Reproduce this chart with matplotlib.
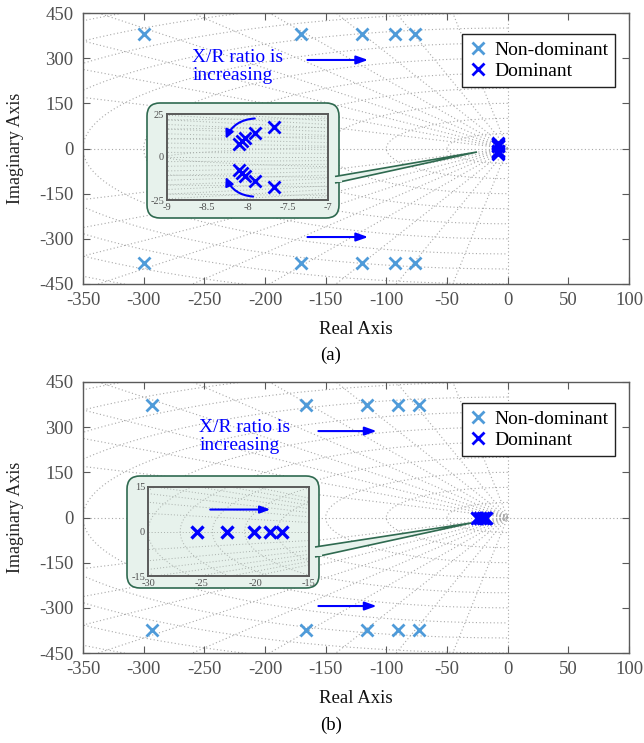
import numpy as np
import matplotlib
matplotlib.use("Agg")
import matplotlib.pyplot as plt
from matplotlib.patches import FancyBboxPatch, Polygon, FancyArrowPatch

plt.rcParams['font.family'] = ['Liberation Serif', 'DejaVu Serif']
plt.rcParams['mathtext.fontset'] = 'stix'

# ---------------- data ----------------
a_nd_re = [-300, -170, -120, -93, -76]
a_nd_im = [379, 379, 379, 379, 379]
a_dom_re = [-8.11, -8.07, -8.03, -7.91, -7.67]
a_dom_im = [7.3, 9.4, 11.0, 13.9, 17.7]

b_nd_re = [-293, -166, -116, -90, -73]
b_nd_im = [375, 375, 375, 375, 375]
b_dom_re = [-25.4, -22.6, -20.1, -18.6, -17.5]
b_dom_im = [0, 0, 0, 0, 0]

xticks = [-350, -300, -250, -200, -150, -100, -50, 0, 50, 100]
yticks = [-450, -300, -150, 0, 150, 300, 450]

C_ND = '#4f9bd9'
C_DOM = '#0000ff'
C_GRID = '#a8a8a8'
C_FRAME = '#5a5a5a'
C_TICK = '#505050'
C_BOX = '#e7f2ec'
C_BOXE = '#2f6a50'

W, H = 644, 743
fig = plt.figure(figsize=(W / 100, H / 100), dpi=100)


def fr(x0, y0, x1, y1):
    return [x0 / W, 1 - y1 / H, (x1 - x0) / W, (y1 - y0) / H]


def sgrid(ax, zetas, wns, rmax, lw=0.8, color=C_GRID):
    ls = (0, (1, 2.2))
    for z in zetas:
        s = np.sqrt(1 - z ** 2)
        for sg in (1, -1):
            ax.plot([0, -z * rmax], [0, sg * s * rmax], ls=ls, color=color, lw=lw, zorder=0)
    th = np.linspace(np.pi / 2, 3 * np.pi / 2, 600)
    for wn in wns:
        ax.plot(wn * np.cos(th), wn * np.sin(th), ls=ls, color=color, lw=lw, zorder=0)
    ax.axhline(0, ls=ls, color=color, lw=lw, zorder=0)
    ax.axvline(0, ls=ls, color=color, lw=lw, zorder=0)


def style(ax, fs=13.5):
    for sp in ax.spines.values():
        sp.set_color(C_FRAME)
        sp.set_linewidth(1.0)
    ax.tick_params(direction='in', top=True, right=True, colors=C_FRAME,
                   labelcolor=C_TICK, labelsize=fs, length=5, width=0.8)


def main_panel(rect, nd_re, nd_im, dom_re, dom_im, small_wn, arrows, txt_xy, label, lab_y):
    ax = fig.add_axes(rect)
    sgrid(ax, np.arange(0.1, 1.0, 0.1), list(small_wn) + list(np.arange(50, 700, 50)), 900)
    ax.plot(nd_re + nd_re, nd_im + [-v for v in nd_im], 'x', color=C_ND, ms=9, mew=2,
            ls='none', label='Non-dominant', zorder=3)
    ax.plot(dom_re + dom_re, dom_im + [-v for v in dom_im], 'x', color=C_DOM, ms=9, mew=2,
            ls='none', label='Dominant', zorder=3)
    ax.set_xlim(-350, 100)
    ax.set_ylim(-450, 450)
    ax.set_xticks(xticks)
    ax.set_yticks(yticks)
    ax.set_xticklabels([str(v) for v in xticks])
    ax.set_yticklabels([str(v) for v in yticks])
    style(ax)
    ax.tick_params(axis='x', pad=6)
    ax.tick_params(axis='y', pad=7)
    ax.set_xlabel('Real Axis', fontsize=13.5, color='#111111')
    ax.set_ylabel('Imaginary Axis', fontsize=13, color='#222222')
    ax.xaxis.set_label_coords(0.5, -0.135)
    ax.yaxis.set_label_coords(-0.108, 0.5)
    leg = ax.legend(loc='upper right', bbox_to_anchor=(0.975, 0.922), fontsize=14,
                    frameon=True, fancybox=False, edgecolor='#222222', framealpha=1,
                    handlelength=0.9, handletextpad=0.4, borderpad=0.35, labelspacing=0.2,
                    borderaxespad=0)
    leg.get_frame().set_linewidth(1.0)
    for (x0, x1, y) in arrows:
        ax.annotate('', xy=(x1, y), xytext=(x0, y),
                    arrowprops=dict(arrowstyle='-|>,head_length=0.7,head_width=0.25',
                                    color=C_DOM, lw=1.5, shrinkA=0, shrinkB=0), zorder=4)
    ax.text(txt_xy[0], txt_xy[1], 'X/R ratio is\nincreasing', color=C_DOM, fontsize=14,
            ha='left', va='center', linespacing=1.05, zorder=4)
    fig.text(331 / W, 1 - lab_y / H, label, ha='center', va='center', fontsize=13.5)
    return ax


ax_a = main_panel(fr(83, 13, 629, 284), a_nd_re, a_nd_im, a_dom_re, a_dom_im, [],
                  [(-165, -115, 294), (-165, -115, -294)], (-260, 273), '(a)', 355)
ax_b = main_panel(fr(83, 382, 629, 653), b_nd_re, b_nd_im, b_dom_re, b_dom_im,
                  [2.5, 5, 7.5, 10],
                  [(-156, -108, 287), (-156, -108, -294)], (-254, 270), '(b)', 725)


def px(x, y):
    return (x / 100, (H - y) / 100)


def callout(box, base, tip):
    x0, y0, x1, y1 = box
    p0 = px(x0, y1)
    bb = FancyBboxPatch(p0, (x1 - x0) / 100, (y1 - y0) / 100,
                        boxstyle='round,pad=0,rounding_size=0.13',
                        transform=fig.dpi_scale_trans, facecolor=C_BOX,
                        edgecolor=C_BOXE, lw=1.2, zorder=2)
    fig.add_artist(bb)
    bx, by0, by1 = base
    wedge = Polygon([px(bx - 4, by0), px(*tip), px(bx - 4, by1)], closed=False,
                    transform=fig.dpi_scale_trans, facecolor=C_BOX, edgecolor=C_BOXE,
                    lw=1.2, zorder=3)
    fig.add_artist(wedge)
    cover = Polygon([px(bx - 6, by0 + 1.2), px(bx + 3, by0 + 0.9), px(bx + 3, by1 - 0.9),
                     px(bx - 6, by1 - 1.2)], closed=True, transform=fig.dpi_scale_trans,
                    facecolor=C_BOX, edgecolor='none', zorder=4)
    fig.add_artist(cover)


callout((147, 103, 339, 218), (339, 176.5, 183), (477, 152))
callout((127, 476, 319, 588), (319, 547, 557), (471, 523))

C_IG = '#a9b0ac'

# ---------------- inset (a) ----------------
ia = fig.add_axes(fr(167, 114, 328, 200), facecolor=C_BOX)
ia.set_zorder(6)
z_a = [8 / np.sqrt(64 + y ** 2) for y in np.arange(2.4, 40, 2.4)]
sgrid(ia, z_a, np.arange(9, 34, 4.8), 60, lw=0.7, color=C_IG)
ia.plot(a_dom_re + a_dom_re, a_dom_im + [-v for v in a_dom_im], 'x', color=C_DOM,
        ms=9, mew=2, ls='none', zorder=3)
ia.set_xlim(-9, -7)
ia.set_ylim(-25, 25)
ia.set_xticks([-9, -8.5, -8, -7.5, -7])
ia.set_xticklabels(['-9', '-8.5', '-8', '-7.5', '-7'])
ia.set_yticks([-25, 0, 25])
ia.set_yticklabels(['-25', '0', '25'])
style(ia, fs=7.5)
for sp in ia.spines.values():
    sp.set_linewidth(1.4)
ia.tick_params(length=0, pad=2)
for (s, e, r) in [((-7.91, 22.4), (-8.27, 10.7), 0.3), ((-7.93, -23.0), (-8.27, -11.7), -0.3)]:
    ia.add_patch(FancyArrowPatch(s, e, connectionstyle=f'arc3,rad={r}',
                                 arrowstyle='-|>,head_length=5,head_width=2.5',
                                 color=C_DOM, lw=1.5, shrinkA=0, shrinkB=0, zorder=4))

# ---------------- inset (b) ----------------
ib = fig.add_axes(fr(148, 487, 309, 576), facecolor=C_BOX)
ib.set_zorder(6)
sgrid(ib, np.arange(0.80, 1.0, 0.03), np.arange(3, 50, 3), 80, lw=0.7, color=C_IG)
ib.plot(b_dom_re, b_dom_im, 'x', color=C_DOM, ms=8, mew=2.4, ls='none', zorder=3)
ib.set_xlim(-30, -15)
ib.set_ylim(-15, 15)
ib.set_xticks([-30, -25, -20, -15])
ib.set_xticklabels(['-30', '-25', '-20', '-15'])
ib.set_yticks([-15, 0, 15])
ib.set_yticklabels(['-15', '0', '15'])
style(ib, fs=7.5)
for sp in ib.spines.values():
    sp.set_linewidth(1.4)
ib.tick_params(length=0, pad=2)
ib.annotate('', xy=(-18.6, 7.4), xytext=(-24.2, 7.4),
            arrowprops=dict(arrowstyle='-|>,head_length=0.6,head_width=0.22',
                            color=C_DOM, lw=1.5, shrinkA=0, shrinkB=0), zorder=4)

fig.savefig('out.png', dpi=100)
